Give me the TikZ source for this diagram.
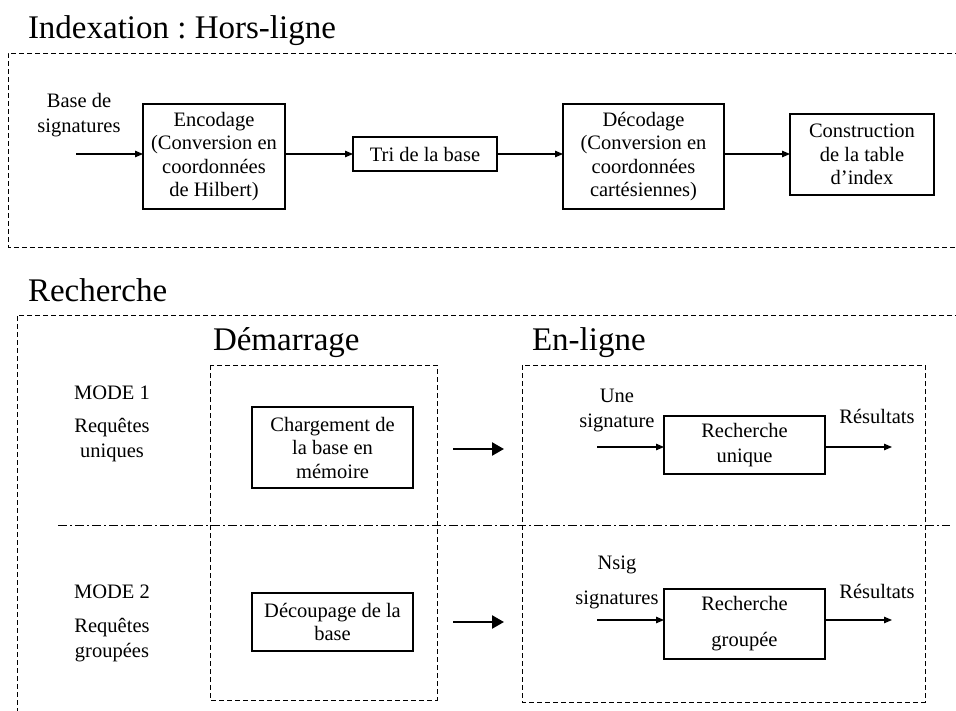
\documentclass[tikz,border=0pt]{standalone}
\usepackage{fontspec}
\setmainfont{Liberation Serif}
\usetikzlibrary{arrows.meta}
\frenchspacing
\begin{document}
\begin{tikzpicture}[x=1pt,y=-1pt,
  every node/.style={inner sep=0pt, outer sep=0pt},
  txt/.style={font=\fontsize{20.5}{25}\selectfont, align=center},
  title/.style={font=\fontsize{33}{36}\selectfont, anchor=base west},
  proc/.style={draw, line width=1.1pt, txt, font=\fontsize{20.5}{23.5}\selectfont},
  zone/.style={line width=1pt, dash pattern=on 5pt off 3pt},
  sep/.style={line width=1pt, dash pattern=on 9pt off 3pt on 2pt off 3pt},
  arr/.style={line width=1.1pt, -{Triangle[length=8pt,width=6.5pt]}},
  bigarr/.style={line width=2.4pt, -{Triangle[length=12pt,width=13pt]}}]
\useasboundingbox (0,0) rectangle (956,710);

% ---------- Indexation (offline) ----------
\node[title] (t1) at (28,38) {Indexation : Hors-ligne};
\draw[zone] (960,53) -- (8,53) -- (8,247) -- (960,247);

\node[txt] (bsig) at (79,115.5) {Base de\\signatures};
\coordinate (bin) at (76,154);
\node[proc, minimum width=142pt, minimum height=105pt] (enc) at (214,156.5)
  {Encodage\\(Conversion en\\coordonnées\\de Hilbert)};
\node[proc, minimum width=144pt, minimum height=34pt] (tri) at (425,154) {Tri de la base};
\node[proc, minimum width=161pt, minimum height=105pt] (dec) at (643.5,156.5)
  {Décodage\\(Conversion en\\coordonnées\\cartésiennes)};
\node[proc, minimum width=144pt, minimum height=81pt] (cons) at (862,154.5)
  {Construction\\de la table\\d’index};

\draw[arr] (bin) -- (bin -| enc.west);
\draw[arr] (enc.east |- tri.west) -- (tri.west);
\draw[arr] (tri.east) -- (tri.east -| dec.west);
\draw[arr] (dec.east |- tri.east) -- (cons.west |- tri.east);

% ---------- Recherche ----------
\node[title] (t2) at (28,301) {Recherche};
\draw[zone] (960,315) -- (17,315) -- (17,715);

\node[title] (t3) at (213,350) {Démarrage};
\node[title] (t4) at (532,350) {En-ligne};
\draw[zone] (210,365) rectangle (437,700);
\draw[zone] (522,365) rectangle (925,702);

\coordinate (sepL) at (58,525);
\coordinate (sepR) at (950,525);
\draw[sep] (sepL) -- (sepR);

% mode labels
\node[txt] (m1) at (112,393) {MODE 1};
\node[txt] (r1) at (112,440) {Requêtes\\uniques};
\node[txt] (m2) at (112,592) {MODE 2};
\node[txt] (r2) at (112,640) {Requêtes\\groupées};

% start-up steps
\node[proc, minimum width=161pt, minimum height=81pt] (charg) at (332.5,447.5)
  {Chargement de\\la base en\\mémoire};
\node[proc, minimum width=161pt, minimum height=58pt] (decoup) at (332.5,622)
  {Découpage de la\\base};

\coordinate (b1s) at (453,449);
\coordinate (b1e) at (504,449);
\coordinate (b2s) at (453,622);
\coordinate (b2e) at (504,622);
\draw[bigarr] (b1s) -- (b1e);
\draw[bigarr] (b2s) -- (b2e);

% online search, mode 1
\node[txt] (une) at (617,410.5) {Une\\signature};
\node[proc, minimum width=161pt, minimum height=58pt, font=\fontsize{20.5}{25}\selectfont]
  (ru) at (744.5,445) {Recherche\\unique};
\coordinate (in1) at (597,447);
\coordinate (out1) at (892,447);
\node[txt] (res1) at (877,416) {Résultats};
\draw[arr] (in1) -- (in1 -| ru.west);
\draw[arr] (ru.east |- out1) -- (out1);

% online search, mode 2
\node[txt, font=\fontsize{20.5}{35}\selectfont] (nsig) at (617,582.5) {Nsig\\signatures};
\node[proc, minimum width=161pt, minimum height=70pt, font=\fontsize{20.5}{36}\selectfont]
  (rg) at (744.5,624) {Recherche\\groupée};
\coordinate (in2) at (597,620);
\coordinate (out2) at (892,620);
\node[txt] (res2) at (877,591) {Résultats};
\draw[arr] (in2) -- (in2 -| rg.west);
\draw[arr] (rg.east |- out2) -- (out2);
\end{tikzpicture}
\end{document}
